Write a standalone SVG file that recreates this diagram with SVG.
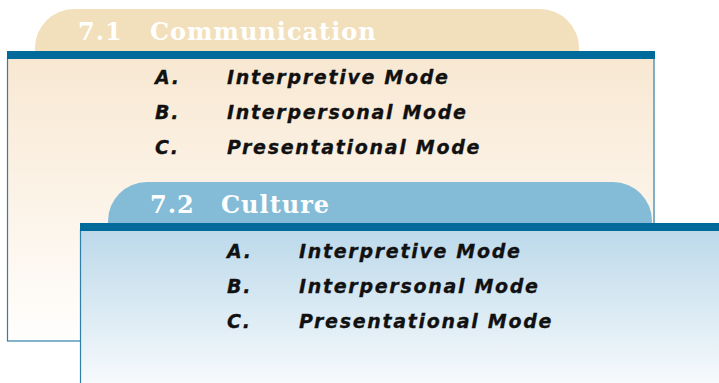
<svg xmlns="http://www.w3.org/2000/svg" width="719" height="383" viewBox="0 0 719 383">
<defs>
<linearGradient id="g1" x1="0" y1="0" x2="0" y2="1">
<stop offset="0" stop-color="#f8e8d2"/>
<stop offset="1" stop-color="#fffefd"/>
</linearGradient>
<linearGradient id="g2" x1="0" y1="0" x2="0" y2="1">
<stop offset="0" stop-color="#bcd9ea"/>
<stop offset="1" stop-color="#f9fbfd"/>
</linearGradient>
<style>
.title{font-family:"DejaVu Serif",serif;font-size:24px;font-weight:bold;letter-spacing:1px;fill:#ffffff}
.item{font-family:"DejaVu Sans","Liberation Sans",sans-serif;font-size:19px;font-weight:bold;font-style:italic;letter-spacing:1.7px;fill:#111111;stroke:#111111;stroke-width:0.3}
.bar{fill:#006b9a}
.edge{stroke:#2f7fab;stroke-width:1.2}
</style>
</defs>
<g id="box1">
<path d="M35,51 L35,48 A39,39 0 0 1 74,9 L540,9 A39,39 0 0 1 579,48 L579,51 Z" fill="#f2dfbb"/>
<rect x="7.5" y="58" width="646.5" height="283" fill="url(#g1)" class="edge"/>
<rect x="7" y="51" width="648" height="8" class="bar"/>
<text class="title" x="78" y="40">7.1</text>
<text class="title" x="150" y="40">Communication</text>
<text class="item" x="155" y="84">A.</text>
<text class="item" x="227" y="84">Interpretive Mode</text>
<text class="item" x="155" y="119">B.</text>
<text class="item" x="227" y="119">Interpersonal Mode</text>
<text class="item" x="155" y="154">C.</text>
<text class="item" x="227" y="154">Presentational Mode</text>
</g>
<g id="box2">
<path d="M108,223 L108,221 A39,39 0 0 1 147,182 L613,182 A39,39 0 0 1 652,221 L652,223 Z" fill="#84bcd7"/>
<rect x="80.5" y="230" width="640" height="160" fill="url(#g2)" class="edge"/>
<rect x="80" y="223" width="639" height="8" class="bar"/>
<text class="title" x="150" y="213">7.2</text>
<text class="title" x="221" y="213">Culture</text>
<text class="item" x="227" y="258">A.</text>
<text class="item" x="299" y="258">Interpretive Mode</text>
<text class="item" x="227" y="293">B.</text>
<text class="item" x="299" y="293">Interpersonal Mode</text>
<text class="item" x="227" y="328">C.</text>
<text class="item" x="299" y="328">Presentational Mode</text>
</g>
<g id="connectors"/>
</svg>
